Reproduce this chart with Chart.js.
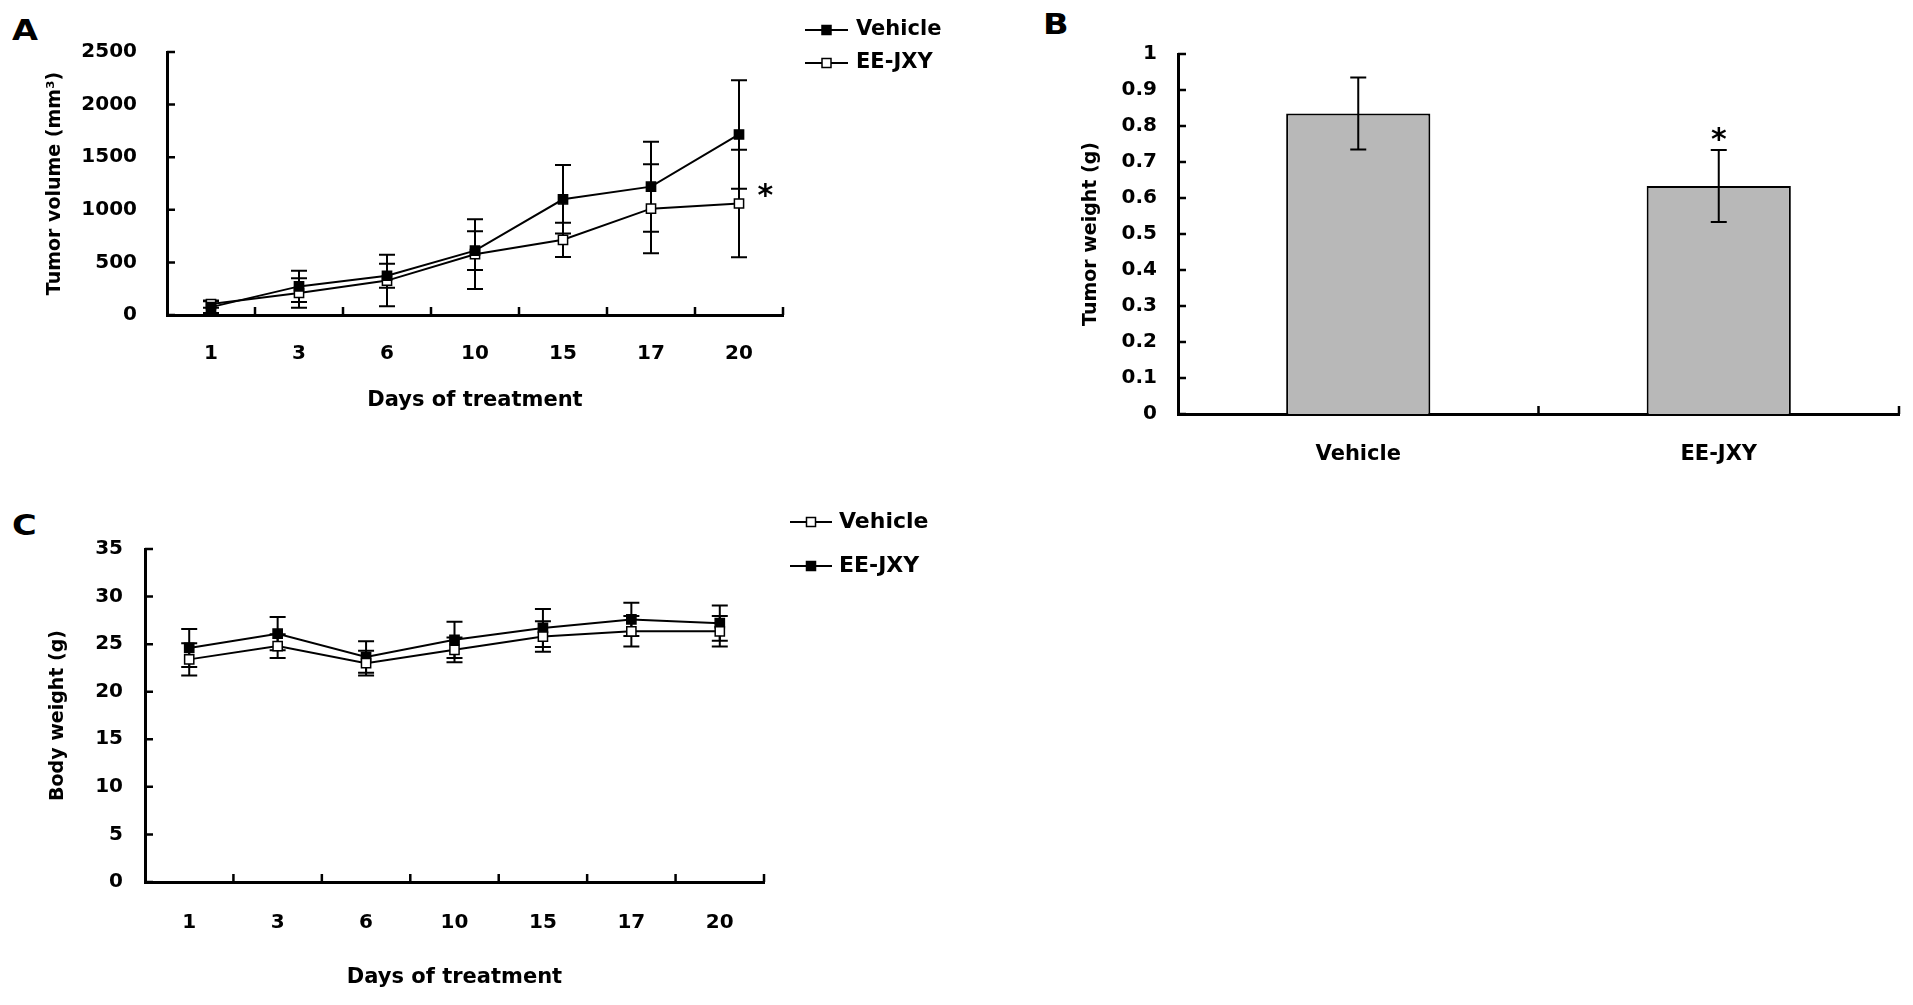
<!DOCTYPE html>
<html>
<head>
<meta charset="utf-8">
<script src="https://cdn.jsdelivr.net/npm/chart.js@4/dist/chart.umd.min.js"></script>
<style>
  body { margin: 0; background: #fff; }
  #page { position: relative; width: 1913px; height: 1005px; background: #fff; overflow: hidden; }
  canvas { position: absolute; }
  .tag { position: absolute; font: bold 28px "DejaVu Sans", sans-serif; line-height: 1; color: #000;
         transform: scaleX(1.2); transform-origin: left top; }
</style>
</head>
<body>
<div id="page">
  <div class="tag" style="left:12px;top:17px">A</div>
  <div class="tag" style="left:1043px;top:11px">B</div>
  <div class="tag" style="left:12px;top:512px">C</div>
  <canvas id="chartA" width="960" height="440" style="left:0;top:0"></canvas>
  <canvas id="chartB" width="873" height="480" style="left:1040px;top:0"></canvas>
  <canvas id="chartC" width="960" height="525" style="left:0;top:480px"></canvas>
</div>
<script>
// data
const days = ['1', '3', '6', '10', '15', '17', '20'];

const volVehicle   = [75, 272, 373, 612, 1100, 1220, 1716];
const volVehicleSd = [55, 148, 115, 185, 325, 428, 516];
const volEE        = [104, 209, 327, 578, 715, 1011, 1060];
const volEESd      = [35, 140, 245, 332, 163, 423, 510];

const groups     = ['Vehicle', 'EE-JXY'];
const weightMean = [0.835, 0.633];
const weightSd   = [0.1, 0.1];

const bwVehicle   = [23.4, 24.8, 23.0, 24.4, 25.8, 26.35, 26.35];
const bwVehicleSd = [1.7, 1.25, 1.3, 1.3, 1.6, 1.6, 1.6];
const bwEE        = [24.6, 26.1, 23.65, 25.45, 26.7, 27.6, 27.2];
const bwEESd      = [2.0, 1.75, 1.65, 1.9, 2.0, 1.75, 1.85];

// significance marks: category index, y value, sideways shift in categories
const starsA = [{ index: 6, value: 1210, shift: 0.3 }];
const starsB = [{ index: 1, value: 0.783, shift: 0 }];

Chart.defaults.font.family = '"DejaVu Sans", sans-serif';
Chart.defaults.font.weight = 'bold';
Chart.defaults.font.size = 20;
Chart.defaults.color = '#000';

function drawErrors(chart) {
  const ctx = chart.ctx, y = chart.scales.y;
  chart.data.datasets.forEach((ds, di) => {
    if (!ds.errors) return;
    chart.getDatasetMeta(di).data.forEach((el, i) => {
      const top = y.getPixelForValue(ds.data[i] + ds.errors[i]);
      const bot = y.getPixelForValue(ds.data[i] - ds.errors[i]);
      ctx.save();
      ctx.strokeStyle = '#000';
      ctx.lineWidth = 2;
      ctx.beginPath();
      ctx.moveTo(el.x, top); ctx.lineTo(el.x, bot);
      ctx.moveTo(el.x - 8, top); ctx.lineTo(el.x + 8, top);
      ctx.moveTo(el.x - 8, bot); ctx.lineTo(el.x + 8, bot);
      ctx.stroke();
      ctx.restore();
    });
  });
}

const errorBars = {
  id: 'errorBars',
  beforeDatasetsDraw(chart, args, opts) { if (!opts.onTop) drawErrors(chart); },
  afterDatasetsDraw(chart, args, opts) { if (opts.onTop) drawErrors(chart); }
};

// tick marks pointing into the plot, like the original
const innerTicks = {
  id: 'innerTicks',
  afterDraw(chart, args, opts) {
    const { ctx, chartArea: a, scales: { x, y } } = chart;
    const len = opts.length || 8;
    ctx.save();
    ctx.strokeStyle = '#000';
    ctx.lineWidth = 2.5;
    ctx.beginPath();
    y.ticks.forEach(t => {
      const py = y.getPixelForValue(t.value);
      ctx.moveTo(a.left, py); ctx.lineTo(a.left + len, py);
    });
    for (let i = 0; i < x.ticks.length; i++) {
      const px = x.getPixelForValue(i + 0.5);
      ctx.moveTo(px, a.bottom); ctx.lineTo(px, a.bottom - len);
    }
    ctx.stroke();
    ctx.restore();
  }
};

const sideLegend = {
  id: 'sideLegend',
  afterDraw(chart, args, opts) {
    const ctx = chart.ctx;
    chart.data.datasets.forEach((ds, i) => {
      const yy = opts.y + i * opts.gap;
      const mx = opts.x + opts.lineLen / 2;
      ctx.save();
      ctx.strokeStyle = '#000';
      ctx.lineWidth = 2;
      ctx.beginPath();
      ctx.moveTo(opts.x, yy); ctx.lineTo(opts.x + opts.lineLen, yy);
      ctx.stroke();
      ctx.fillStyle = ds.pointBackgroundColor;
      ctx.lineWidth = 1.5;
      ctx.fillRect(mx - 4.5, yy - 4.5, 9, 9);
      ctx.strokeRect(mx - 4.5, yy - 4.5, 9, 9);
      ctx.fillStyle = '#000';
      ctx.font = 'bold ' + opts.size + 'px "DejaVu Sans", sans-serif';
      ctx.textBaseline = 'middle';
      ctx.textAlign = 'left';
      ctx.fillText(ds.label, opts.textX, yy);
      ctx.restore();
    });
  }
};

const stars = {
  id: 'stars',
  afterDraw(chart, args, opts) {
    const { ctx, scales: { x, y } } = chart;
    ctx.save();
    ctx.fillStyle = '#000';
    ctx.font = 'bold 30px "DejaVu Sans", sans-serif';
    ctx.textAlign = 'center';
    ctx.textBaseline = 'alphabetic';
    (opts.marks || []).forEach(m => {
      ctx.fillText('*', x.getPixelForValue(m.index + m.shift), y.getPixelForValue(m.value) + 17);
    });
    ctx.restore();
  }
};

function lineSet(label, data, errors, filled) {
  return {
    label, data, errors,
    borderColor: '#000', borderWidth: 2, tension: 0,
    pointStyle: 'rect', pointRadius: 6.5, pointBorderWidth: 1.5,
    pointBorderColor: '#000', pointBackgroundColor: filled ? '#000' : '#fff'
  };
}

const axisBorder = { display: true, color: '#000', width: 3 };
const noGrid = { display: false, drawTicks: false };
const plain = v => String(v);

new Chart(document.getElementById('chartA'), {
  type: 'line',
  data: {
    labels: days,
    datasets: [
      lineSet('Vehicle', volVehicle, volVehicleSd, true),
      lineSet('EE-JXY', volEE, volEESd, false)
    ]
  },
  options: {
    responsive: false, animation: false, events: [],
    layout: { padding: { left: 0, top: 52, right: 177, bottom: 0 } },
    scales: {
      x: {
        offset: true, grid: noGrid, border: axisBorder,
        ticks: { padding: 27 },
        title: { display: true, text: 'Days of treatment', font: { size: 21 }, padding: { top: 0, bottom: 27 } },
        afterFit: s => { s.height = 125; }
      },
      y: {
        min: 0, max: 2500, grid: noGrid, border: axisBorder,
        ticks: { stepSize: 500, padding: 30, callback: plain },
        title: { display: true, text: 'Tumor volume (mm³)', font: { size: 19 }, padding: { top: 44, bottom: 0 } },
        afterFit: s => { s.width = 167; }
      }
    },
    plugins: {
      legend: { display: false }, tooltip: { enabled: false },
      errorBars: { onTop: false },
      innerTicks: { length: 8 },
      sideLegend: { x: 805, y: 30, gap: 33, lineLen: 43, textX: 856, size: 21 },
      stars: { marks: starsA }
    }
  },
  plugins: [errorBars, innerTicks, sideLegend, stars]
});

new Chart(document.getElementById('chartB'), {
  type: 'bar',
  data: {
    labels: groups,
    datasets: [{
      data: weightMean, errors: weightSd,
      backgroundColor: '#b8b8b8', borderColor: '#000', borderWidth: 2,
      barPercentage: 0.4, categoryPercentage: 1
    }]
  },
  options: {
    responsive: false, animation: false, events: [],
    layout: { padding: { left: 0, top: 54, right: 14, bottom: 0 } },
    scales: {
      x: {
        grid: noGrid, border: axisBorder,
        ticks: { padding: 28, font: { size: 21 } },
        afterFit: s => { s.height = 66; }
      },
      y: {
        min: 0, max: 1, grid: noGrid, border: axisBorder,
        ticks: { stepSize: 0.1, padding: 21, callback: v => String(+v.toFixed(1)) },
        title: { display: true, text: 'Tumor weight (g)', font: { size: 19 }, padding: { top: 40, bottom: 0 } },
        afterFit: s => { s.width = 138; }
      }
    },
    plugins: {
      legend: { display: false }, tooltip: { enabled: false },
      errorBars: { onTop: true },
      innerTicks: { length: 8 },
      stars: { marks: starsB }
    }
  },
  plugins: [errorBars, innerTicks, stars]
});

new Chart(document.getElementById('chartC'), {
  type: 'line',
  data: {
    labels: days,
    datasets: [
      lineSet('Vehicle', bwVehicle, bwVehicleSd, false),
      lineSet('EE-JXY', bwEE, bwEESd, true)
    ]
  },
  options: {
    responsive: false, animation: false, events: [],
    layout: { padding: { left: 0, top: 69, right: 196, bottom: 0 } },
    scales: {
      x: {
        offset: true, grid: noGrid, border: axisBorder,
        ticks: { padding: 29 },
        title: { display: true, text: 'Days of treatment', font: { size: 21 }, padding: { top: 0, bottom: 15 } },
        afterFit: s => { s.height = 123; }
      },
      y: {
        min: 0, max: 35, grid: noGrid, border: axisBorder,
        ticks: { stepSize: 5, padding: 22, callback: plain },
        title: { display: true, text: 'Body weight (g)', font: { size: 19 }, padding: { top: 47, bottom: 0 } },
        afterFit: s => { s.width = 145; }
      }
    },
    plugins: {
      legend: { display: false }, tooltip: { enabled: false },
      errorBars: { onTop: false },
      innerTicks: { length: 8 },
      sideLegend: { x: 790, y: 42, gap: 44, lineLen: 42, textX: 839, size: 22 }
    }
  },
  plugins: [errorBars, innerTicks, sideLegend]
});
</script>
</body>
</html>
